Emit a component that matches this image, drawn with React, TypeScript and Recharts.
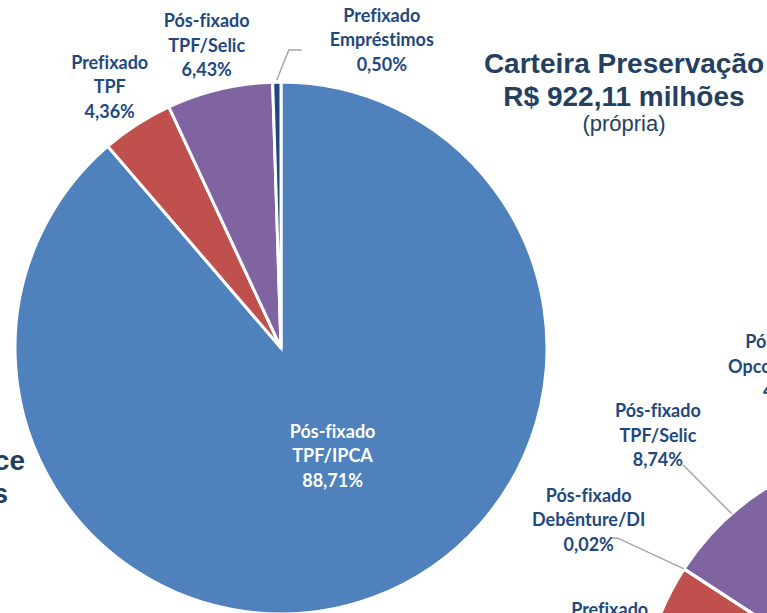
import React from 'react';
import { PieChart, Pie, Cell } from 'recharts';

// Carteira Preservação (main pie)
const preservacaoNames = ['Pós-fixado TPF/IPCA', 'Prefixado TPF', 'Pós-fixado TPF/Selic', 'Prefixado Empréstimos'];
const preservacaoValues = [88.71, 4.36, 6.43, 0.5];
const preservacaoColors = ['#4F81BD', '#C0504D', '#8064A2', '#1F497D'];

// Second portfolio (partially visible, bottom right)
const segundaNames = ['Pós-fixado TPF/IPCA', 'Prefixado TPF', 'Pós-fixado Debênture/DI', 'Pós-fixado TPF/Selic', 'Pós-fixado Opcom/IGP-M', 'Prefixado Empréstimos'];
const segundaValues = [74.45, 9.72, 0.02, 8.74, 4.37, 2.7];
const segundaColors = ['#4F81BD', '#C0504D', '#9BBB59', '#8064A2', '#F79646', '#1F497D'];

const titleLines = ['Carteira Preservação', 'R$ 922,11 milhões', '(própria)'];
const leftTitleLines = ['Carteira Performance', 'R$ 1.024,56 milhões'];

const preservacaoData = preservacaoNames.map((name, i) => ({ name, value: preservacaoValues[i] }));
const segundaData = segundaNames.map((name, i) => ({ name, value: segundaValues[i] }));

const RAD = Math.PI / 180;
const LABEL_COLOR = '#1F497D';
const LINE_COLOR = '#A6A6A6';
const LINE_H = 24.5;

const fmtPct = (v: number) => v.toFixed(2).replace('.', ',') + '%';
const splitName = (name: string) => {
  const idx = name.indexOf(' ');
  return idx < 0 ? [name] : [name.slice(0, idx), name.slice(idx + 1)];
};

const polar = (cx: number, cy: number, r: number, angle: number) => ({
  x: cx + r * Math.cos(-angle * RAD),
  y: cy + r * Math.sin(-angle * RAD),
});

const LabelText = ({ x, y, lines, fill }: { x: number; y: number; lines: string[]; fill: string }) => {
  const start = y - ((lines.length - 1) * LINE_H) / 2;
  return (
    <text
      x={x}
      y={start}
      textAnchor="middle"
      dominantBaseline="central"
      fontFamily="Lato, 'Noto Sans', sans-serif"
      fontWeight={700}
      fontSize={18}
      fill={fill}
      style={{ fontVariantLigatures: 'none' }}
    >
      {lines.map((l, i) => (
        <tspan key={i} x={x} y={start + i * LINE_H}>
          {l}
        </tspan>
      ))}
    </text>
  );
};

const renderLabel1 = (props: any) => {
  const { cx, cy, midAngle, outerRadius, index, name, value } = props;
  const lines = [...splitName(name), fmtPct(value)];
  if (index === 0) {
    const p = polar(cx, cy, outerRadius * 0.45, midAngle);
    return <LabelText x={p.x + 10} y={p.y - 5} lines={lines} fill="#FFFFFF" />;
  }
  if (value < 1) {
    const p0 = polar(cx, cy, outerRadius + 2, midAngle);
    const elbow = { x: p0.x + 12, y: p0.y - 30 };
    const end = { x: elbow.x + 13, y: elbow.y };
    return (
      <g>
        <polyline
          points={`${p0.x},${p0.y} ${elbow.x},${elbow.y} ${end.x},${end.y}`}
          fill="none"
          stroke={LINE_COLOR}
          strokeWidth={1.5}
        />
        <LabelText x={end.x + 80} y={end.y - 11} lines={lines} fill={LABEL_COLOR} />
      </g>
    );
  }
  const p = polar(cx, cy, outerRadius * 1.175, midAngle);
  return <LabelText x={p.x - 2} y={p.y + 1} lines={lines} fill={LABEL_COLOR} />;
};

const renderLabel2 = (props: any) => {
  const { cx, cy, midAngle, outerRadius, index, name, value } = props;
  const lines = [...splitName(name), fmtPct(value)];
  if (index === 0) {
    const p = polar(cx, cy, outerRadius * 0.5, midAngle);
    return <LabelText x={p.x} y={p.y} lines={lines} fill="#FFFFFF" />;
  }
  if (index === 1) {
    const p = polar(cx, cy, outerRadius * 1.16, midAngle);
    return <LabelText x={p.x} y={p.y + 2} lines={lines} fill={LABEL_COLOR} />;
  }
  if (index === 5) {
    const p = polar(cx, cy, outerRadius * 1.7, midAngle);
    return <LabelText x={p.x} y={p.y} lines={lines} fill={LABEL_COLOR} />;
  }
  const p = polar(cx, cy, outerRadius * 1.405, midAngle);
  const a = polar(cx, cy, outerRadius, midAngle);
  if (index === 2) {
    const c = { x: p.x - 5, y: p.y + 9 };
    const elbow = { x: c.x + 29, y: c.y + 19 };
    const end = { x: c.x + 22, y: c.y + 19 };
    return (
      <g>
        <polyline
          points={`${a.x},${a.y} ${elbow.x},${elbow.y} ${end.x},${end.y}`}
          fill="none"
          stroke={LINE_COLOR}
          strokeWidth={1.5}
        />
        <LabelText x={c.x} y={c.y} lines={lines} fill={LABEL_COLOR} />
      </g>
    );
  }
  if (index === 3) {
    const c = { x: p.x - 3, y: p.y + 2 };
    return (
      <g>
        <polyline
          points={`${a.x},${a.y} ${c.x + 25},${c.y + 30}`}
          fill="none"
          stroke={LINE_COLOR}
          strokeWidth={1.5}
        />
        <LabelText x={c.x} y={c.y} lines={lines} fill={LABEL_COLOR} />
      </g>
    );
  }
  return <LabelText x={p.x - 6} y={p.y + 8} lines={lines} fill={LABEL_COLOR} />;
};

export default function App() {
  const W = 767;
  const H = 613;
  return (
    <div style={{ position: 'absolute', left: 0, top: 0, width: W, height: H, overflow: 'hidden', background: '#fff' }}>
      <PieChart width={W} height={H} margin={{ top: 0, right: 0, bottom: 0, left: 0 }}>
        <Pie
          data={preservacaoData}
          dataKey="value"
          nameKey="name"
          cx={281}
          cy={348}
          outerRadius={266}
          startAngle={90}
          endAngle={-270}
          stroke="#FFFFFF"
          strokeWidth={3}
          label={renderLabel1}
          labelLine={false}
          isAnimationActive={false}
        >
          {preservacaoData.map((_, i) => (
            <Cell key={i} fill={preservacaoColors[i]} />
          ))}
        </Pie>
        <Pie
          data={segundaData}
          dataKey="value"
          nameKey="name"
          cx={907}
          cy={714}
          outerRadius={266}
          startAngle={90}
          endAngle={-270}
          stroke="#FFFFFF"
          strokeWidth={3}
          label={renderLabel2}
          labelLine={false}
          isAnimationActive={false}
        >
          {segundaData.map((_, i) => (
            <Cell key={i} fill={segundaColors[i]} />
          ))}
        </Pie>
      </PieChart>
      <svg
        width={W}
        height={H}
        style={{ position: 'absolute', left: 0, top: 0, pointerEvents: 'none' }}
      >
        <g fontFamily="'Liberation Sans', Arial, sans-serif" fill="#243F60" textAnchor="middle">
          <text x={624} y={73} fontSize={28} fontWeight={700}>{titleLines[0]}</text>
          <text x={624} y={106} fontSize={28} fontWeight={700}>{titleLines[1]}</text>
          <text x={624} y={131} fontSize={22} fontWeight={400}>{titleLines[2]}</text>
        </g>
        <g fontFamily="'Liberation Sans', Arial, sans-serif" fill="#243F60" textAnchor="end" fontWeight={700} fontSize={28}>
          <text x={25} y={470}>{leftTitleLines[0]}</text>
          <text x={8} y={503}>{leftTitleLines[1]}</text>
        </g>
      </svg>
    </div>
  );
}
